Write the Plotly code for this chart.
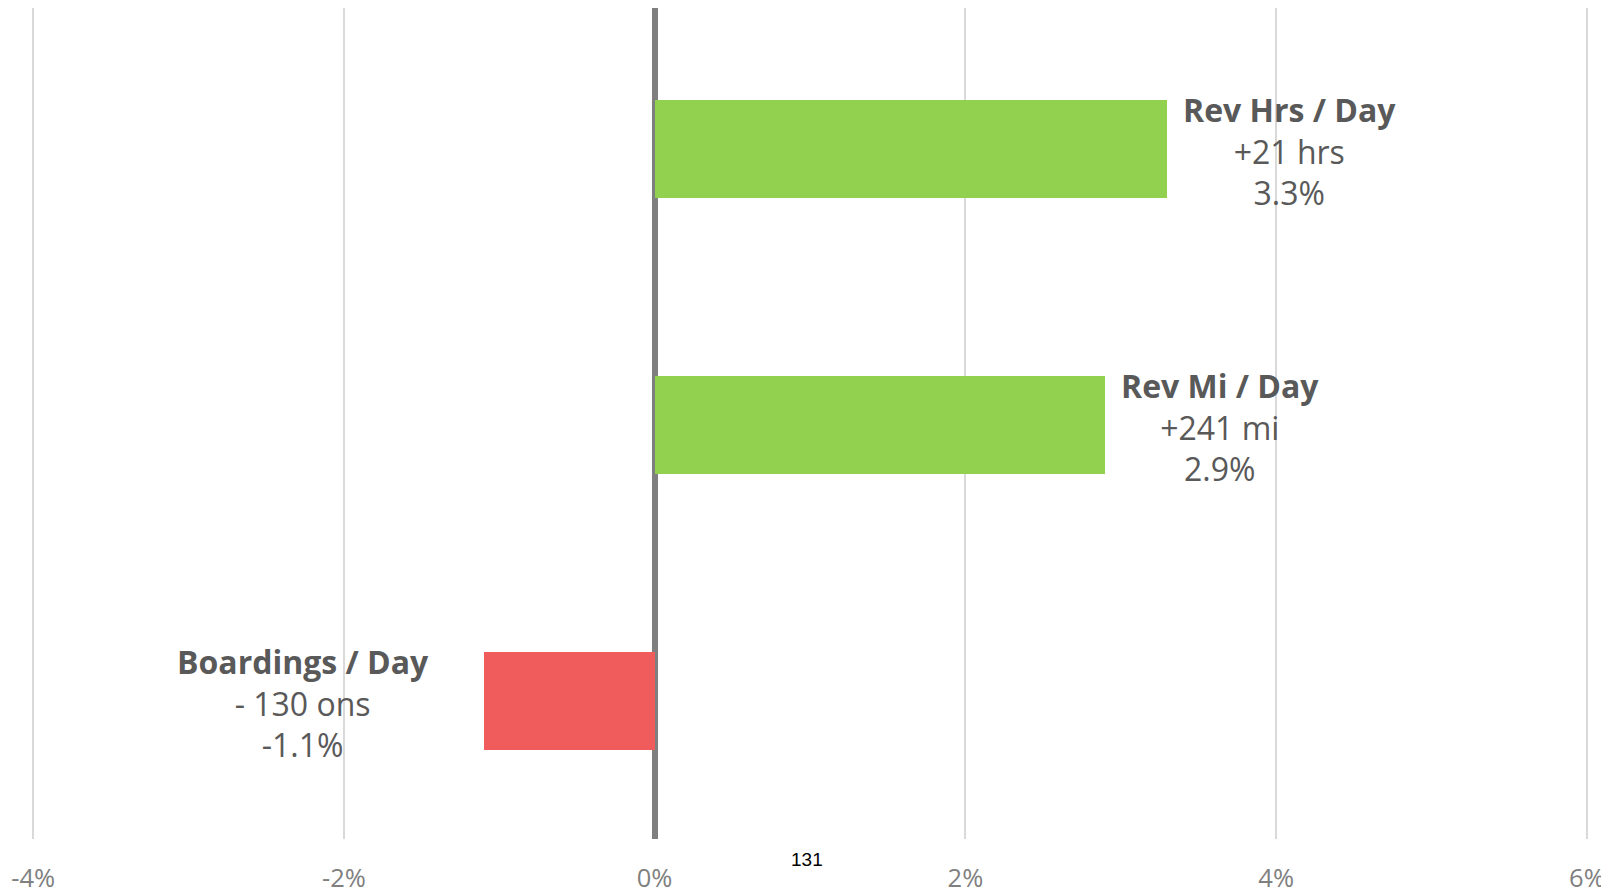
import plotly.graph_objects as go

categories = ["Boardings / Day", "Rev Mi / Day", "Rev Hrs / Day"]
pct_change = [-1.1, 2.9, 3.3]
abs_change = ["- 130 ons", "+241 mi", "+21 hrs"]
pct_labels = ["-1.1%", "2.9%", "3.3%"]
bar_colors = ["#F05C5C", "#92D050", "#92D050"]
tick_vals = [-4, -2, 0, 2, 4, 6]
tick_text = ["-4%", "-2%", "0%", "2%", "4%", "6%"]
page_number = "131"

fig = go.Figure()
fig.add_trace(go.Bar(
    y=categories, x=pct_change, orientation="h",
    marker=dict(color=bar_colors, line=dict(width=0)),
    width=0.353, hoverinfo="skip",
))

for cat, v, a, p in zip(categories, pct_change, abs_change, pct_labels):
    txt = f"<b>{cat}</b><br>{a}<br>{p}"
    fig.add_annotation(
        x=v, y=cat, xref="x", yref="y", text=txt, showarrow=False,
        xanchor="left" if v >= 0 else "right", yanchor="middle",
        xshift=14 if v >= 0 else -53, yshift=-2, align="center",
        font=dict(family="Open Sans", size=32, color="#595959"),
    )

fig.add_annotation(
    x=0.98, y=-0.0252, xref="x", yref="paper", text=page_number, showarrow=False,
    xanchor="center", yanchor="middle",
    font=dict(family="Arial, Liberation Sans", size=19, color="#000000"),
)

fig.update_layout(
    width=1601, height=887,
    margin=dict(l=22, r=19, t=0, b=56),
    paper_bgcolor="white", plot_bgcolor="white",
    showlegend=False, bargap=0,
    font=dict(family="Open Sans"),
    xaxis=dict(
        range=[-4.02, 6.02], tickvals=tick_vals, ticktext=tick_text,
        showgrid=True, gridcolor="#D9D9D9", gridwidth=1.5,
        zeroline=True, zerolinecolor="#7F7F7F", zerolinewidth=6,
        showline=False, ticks="", ticklabelstandoff=21,
        tickfont=dict(family="Open Sans", size=25.5, color="#808080"),
        fixedrange=True, automargin=False,
    ),
    yaxis=dict(
        categoryorder="array", categoryarray=categories,
        range=[-0.5, 2.51], showticklabels=False, showgrid=False,
        zeroline=False, showline=False, ticks="", fixedrange=True,
        automargin=False,
    ),
)

fig.write_html("out.html")
